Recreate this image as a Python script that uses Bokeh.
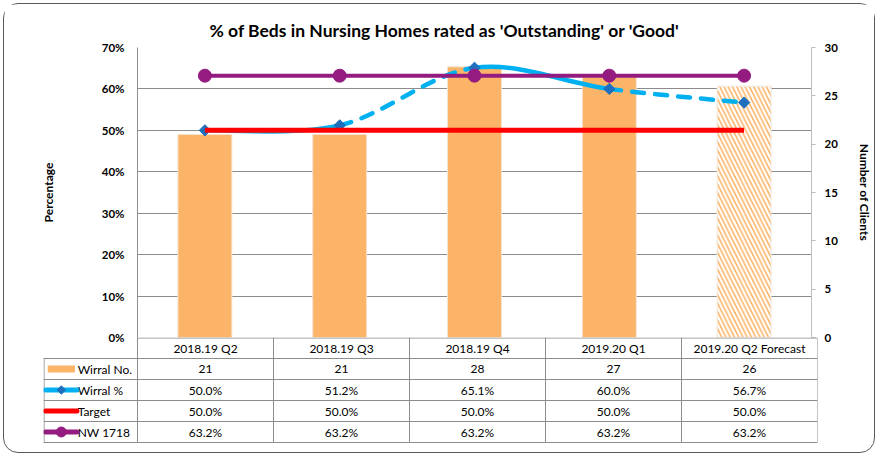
import numpy as np
from bokeh.plotting import figure
from bokeh.models import (Range1d, FactorRange, LinearAxis, FixedTicker,
                          PrintfTickFormatter)
from bokeh.layouts import column
from bokeh.embed import file_html
from bokeh.resources import INLINE
from bokeh.core.properties import value

# ---------------- data ----------------
categories = ["2018.19 Q2", "2018.19 Q3", "2018.19 Q4", "2019.20 Q1", "2019.20 Q2 Forecast"]
wirral_no = [21, 21, 28, 27, 26]
wirral_pct = [50.0, 51.2, 65.1, 60.0, 56.7]
target_pct = [50.0, 50.0, 50.0, 50.0, 50.0]
nw_pct = [63.2, 63.2, 63.2, 63.2, 63.2]
is_forecast = [False, False, False, False, True]
wirral_seg_dashed = [False, True, False, True]
pct_ticks = [0, 10, 20, 30, 40, 50, 60, 70]
client_ticks = [0, 5, 10, 15, 20, 25, 30]
row_labels = ["Wirral No.", "Wirral %", "Target", "NW 1718"]
title_text = "% of Beds in Nursing Homes rated as 'Outstanding' or 'Good'"

# ---------------- style ----------------
FONT = "Lato"
ORANGE = "#FCB468"
BLUE = "#00B0F0"
DIAMOND = "#1F6FBF"
RED = "#FF0000"
PURPLE = "#941C81"
GRID = "#8C8C8C"
TXT = "#000000"

# ---------------- chart ----------------
p = figure(width=870, height=341, x_range=FactorRange(*categories),
           y_range=Range1d(0, 70), x_axis_location=None,
           output_backend="svg", toolbar_location=None,
           min_border_left=133, min_border_right=57, min_border_top=43,
           min_border_bottom=8, outline_line_color=None, frame_align=False)

p.title.text = title_text
p.title.align = "left"
p.title.offset = 72
p.title.text_font = FONT
p.title.text_font_style = "bold"
p.title.text_font_size = "17.5px"
p.title.text_color = TXT
p.title.standoff = 13

p.extra_y_ranges = {"clients": Range1d(0, 30)}

# left axis
p.yaxis.ticker = FixedTicker(ticks=pct_ticks)
p.yaxis.formatter = PrintfTickFormatter(format="%d%%")
p.yaxis.axis_label = "Percentage"
p.yaxis.axis_label_text_font = FONT
p.yaxis.axis_label_text_font_style = "bold"
p.yaxis.axis_label_text_font_size = "12px"
p.yaxis.axis_label_text_color = TXT
p.yaxis.axis_label_standoff = 43
p.yaxis.major_label_text_font = FONT
p.yaxis.major_label_text_font_style = "bold"
p.yaxis.major_label_text_font_size = "11.5px"
p.yaxis.major_label_text_color = TXT
p.yaxis.major_label_standoff = 13
p.yaxis.major_tick_out = 0
p.yaxis.major_tick_in = 0
p.yaxis.minor_tick_out = 0
p.yaxis.minor_tick_in = 0
p.yaxis.axis_line_color = GRID
p.ygrid.grid_line_color = GRID
p.ygrid.grid_line_width = 1
p.xgrid.visible = False

# right axis
ax2 = LinearAxis(y_range_name="clients", ticker=FixedTicker(ticks=client_ticks),
                 axis_label="Number of Clients")
ax2.axis_label_text_font = FONT
ax2.axis_label_text_font_style = "bold"
ax2.axis_label_text_font_size = "12px"
ax2.axis_label_text_color = TXT
ax2.axis_label_standoff = 16
ax2.major_label_text_font = FONT
ax2.major_label_text_font_style = "bold"
ax2.major_label_text_font_size = "11.5px"
ax2.major_label_text_color = TXT
ax2.major_label_standoff = 9
ax2.major_tick_out = 4
ax2.major_tick_in = 0
ax2.minor_tick_out = 0
ax2.minor_tick_in = 0
ax2.axis_line_color = "#BFBFBF"
ax2.major_tick_line_color = "#BFBFBF"
p.add_layout(ax2, "right")

# bars
solid_x = [c for c, f in zip(categories, is_forecast) if not f]
solid_top = [v for v, f in zip(wirral_no, is_forecast) if not f]
fc_x = [c for c, f in zip(categories, is_forecast) if f]
fc_top = [v for v, f in zip(wirral_no, is_forecast) if f]
p.vbar(x=solid_x, top=solid_top, width=0.4, y_range_name="clients",
       fill_color=ORANGE, line_color="#F3E3D0", line_width=1)
p.vbar(x=fc_x, top=fc_top, width=0.4, y_range_name="clients",
       fill_color="white", line_color="#F3E8DC", line_width=1,
       hatch_pattern="\\", hatch_color=ORANGE, hatch_scale=8.5, hatch_weight=1.6)

# Wirral % smoothed line (cubic bezier through the points)
n = len(categories)
xs = np.arange(n) + 0.5
ys = np.array(wirral_pct)
for dashed in (False, True):
    x0 = []; y0 = []; x1 = []; y1 = []; cx0 = []; cy0 = []; cx1 = []; cy1 = []
    for i in range(n - 1):
        if wirral_seg_dashed[i] != dashed:
            continue
        a = max(i - 1, 0); d = min(i + 2, n - 1)
        x0.append(xs[i]); y0.append(ys[i]); x1.append(xs[i + 1]); y1.append(ys[i + 1])
        cx0.append(xs[i] + (xs[i + 1] - xs[a]) / 6); cy0.append(ys[i] + (ys[i + 1] - ys[a]) / 6)
        cx1.append(xs[i + 1] - (xs[d] - xs[i]) / 6); cy1.append(ys[i + 1] - (ys[d] - ys[i]) / 6)
    p.bezier(x0=x0, y0=y0, x1=x1, y1=y1, cx0=cx0, cy0=cy0, cx1=cx1, cy1=cy1,
             line_color=BLUE, line_width=4.5, line_cap="round",
             line_dash=("12 11" if dashed else "solid"))
p.scatter(x=categories, y=wirral_pct, marker="square", angle=np.pi / 4, size=8,
          fill_color=DIAMOND, line_color=DIAMOND)

# Target
p.line(x=categories, y=target_pct, line_color=RED, line_width=5)

# NW 1718
p.line(x=categories, y=nw_pct, line_color=PURPLE, line_width=4)
p.scatter(x=categories, y=nw_pct, marker="circle", size=13,
          fill_color=PURPLE, line_color=PURPLE)

# ---------------- data table ----------------
LEFT = -0.6912
t = figure(width=870, height=115, x_range=Range1d(LEFT, n), y_range=Range1d(0, 106),
           x_axis_location=None, y_axis_location=None,
           output_backend="svg", toolbar_location=None,
           min_border_left=39, min_border_right=57, min_border_top=0,
           min_border_bottom=9, outline_line_color=None, frame_align=False,
           border_fill_color=None, background_fill_color=None,
           styles={"margin-top": "-8px"})
t.title.visible = False
t.grid.visible = False

row_edges = [106, 85, 64, 43, 22, 1]
row_centers = [(row_edges[k] + row_edges[k + 1]) / 2 for k in range(5)]

# grid lines
hx0 = [0] + [LEFT] * 5
hx1 = [n] * 6
hy = [105.5] + row_edges[1:]
t.segment(x0=hx0, y0=hy, x1=hx1, y1=hy, line_color=GRID, line_width=1)
vx = [LEFT + 0.004] + list(range(n + 1))
vy0 = [1] * (n + 2)
vy1 = [85] + [106] * (n + 1)
t.segment(x0=vx, y0=vy0, x1=vx, y1=vy1, line_color=GRID, line_width=1)

cell_font = dict(text_font=value(FONT), text_font_size="12px", text_color=TXT,
                 text_baseline="middle")
# header
t.text(x=xs, y=[row_centers[0]] * n, text=categories, text_align="center", **cell_font)
# rows
row_values = [
    [str(v) for v in wirral_no],
    ["%.1f%%" % v for v in wirral_pct],
    ["%.1f%%" % v for v in target_pct],
    ["%.1f%%" % v for v in nw_pct],
]
for k, vals in enumerate(row_values):
    t.text(x=xs, y=[row_centers[k + 1]] * n, text=vals, text_align="center", **cell_font)

# legend keys + labels
KEY_X0, KEY_X1, KEY_C, LABEL_X = -0.676, -0.445, -0.56, -0.44
t.text(x=[LABEL_X] * 4, y=row_centers[1:], text=row_labels, text_align="left", **cell_font)
t.rect(x=[KEY_C], y=[row_centers[1]], width=0.2, height=7, fill_color=ORANGE, line_color=None)
t.segment(x0=[KEY_X0], y0=[row_centers[2]], x1=[KEY_X1], y1=[row_centers[2]],
          line_color=BLUE, line_width=5, line_cap="round")
t.scatter(x=[KEY_C], y=[row_centers[2]], marker="square", angle=np.pi / 4, size=6,
          fill_color=DIAMOND, line_color=DIAMOND)
t.segment(x0=[KEY_X0], y0=[row_centers[3]], x1=[KEY_X1], y1=[row_centers[3]],
          line_color=RED, line_width=5, line_cap="round")
t.segment(x0=[KEY_X0], y0=[row_centers[4]], x1=[KEY_X1], y1=[row_centers[4]],
          line_color=PURPLE, line_width=5, line_cap="round")
t.scatter(x=[KEY_C], y=[row_centers[4]], marker="circle", size=10,
          fill_color=PURPLE, line_color=PURPLE)

layout = column(p, t, spacing=0,
                styles={"margin": "4px", "outline": "1.5px solid #5a5a5a",
                        "outline-offset": "0px", "border-radius": "14px"})

open("out.html", "w").write(file_html(layout, INLINE))
